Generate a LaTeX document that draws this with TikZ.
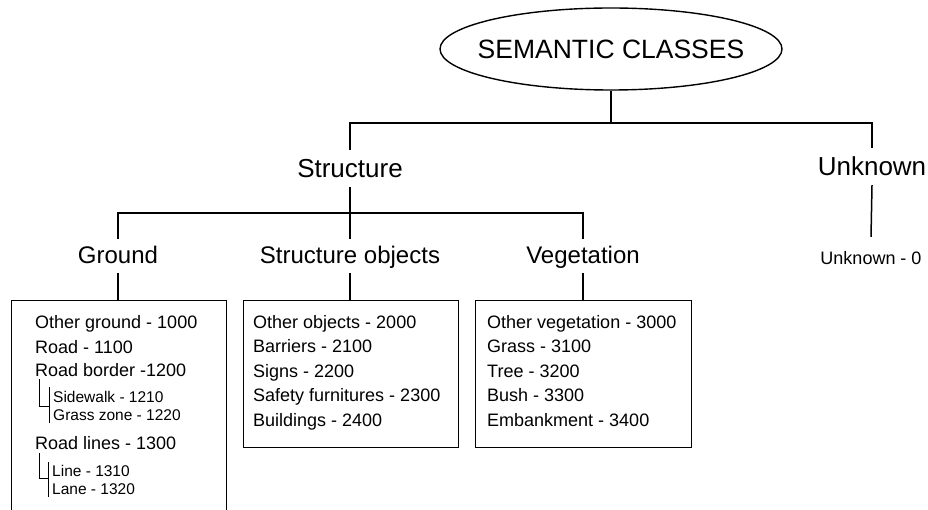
\documentclass[tikz,border=0pt]{standalone}
\usepackage{fontspec}
\setmainfont{Liberation Sans}
\usetikzlibrary{shapes.geometric}

\begin{document}
\begin{tikzpicture}[x=1pt, y=-1pt,
    link/.style={line width=1.5pt},
    classbox/.style={draw, line width=1.1pt, rectangle, anchor=north west, inner sep=0pt},
    head/.style={font=\fontsize{26}{30}\selectfont, inner sep=0pt, text height=28pt, text depth=9pt, anchor=base},
    group/.style={font=\fontsize{24}{28}\selectfont, inner sep=0pt, text height=25pt, text depth=9pt, anchor=base},
    item/.style={font=\fontsize{18}{21}\selectfont, inner sep=0pt, anchor=base west},
    subitem/.style={font=\fontsize{15.5}{18}\selectfont, inner sep=0pt, anchor=base west},
    bracket/.style={line width=0.9pt}]

    % Picture frame (the Ground box runs off the bottom)
    \useasboundingbox (0,0) rectangle (928,510);
    \clip (0,0) rectangle (928,510);

    % Levels of the horizontal bars
    \coordinate (topbar) at (0,123);
    \coordinate (midbar) at (0,213);

    % Root of the tree
    \node[draw, ellipse, line width=1.4pt, inner sep=0pt,
          minimum width=342pt, minimum height=82pt] (root) at (611,49) {};
    \node[font=\fontsize{26.5}{30}\selectfont] (roottext) at (root.center) {SEMANTIC CLASSES};

    % First level
    \node[head] (structure) at (350,178) {Structure};
    \node[head] (unknown)   at (872,176) {Unknown};
    \node[item, anchor=base, text height=28pt] (unknownzero) at (871,265) {Unknown - 0};

    % Second level
    \node[group] (ground)     at (118,264) {Ground};
    \node[group] (structobj)  at (350,264) {Structure objects};
    \node[group] (vegetation) at (583,264) {Vegetation};

    % Boxes holding the class codes
    \node[classbox, minimum width=215pt, minimum height=230pt] (groundbox) at (11,300) {};
    \node[classbox, minimum width=215pt, minimum height=147pt] (objbox)    at (243,300) {};
    \node[classbox, minimum width=216pt, minimum height=147pt] (vegbox)    at (475,300) {};

    % Tree connectors
    \draw[link] (root.south) -- (root.south |- topbar);
    \draw[link] (structure.north) |- (unknown.north |- topbar) -- (unknown.north);
    \draw[link] (unknown.south) -- (unknownzero.north);
    \draw[link] (structure.south) -- (structobj.north);
    \draw[link] (ground.north) |- (vegetation.north |- midbar) -- (vegetation.north);
    \draw[link] (ground.south) -- (ground.south |- groundbox.north);
    \draw[link] (structobj.south) -- (structobj.south |- objbox.north);
    \draw[link] (vegetation.south) -- (vegetation.south |- vegbox.north);

    % Ground classes
    \node[item] (otherground) at (35,328) {Other ground - 1000};
    \node[item] (road)        at (35,353) {Road - 1100};
    \node[item] (border)      at (35,376) {Road border -1200};
    \node[subitem] (sidewalk)  at (53,402) {Sidewalk - 1210};
    \node[subitem] (grasszone) at (53,420) {Grass zone - 1220};
    \node[item] (roadlines)   at (35,449) {Road lines - 1300};
    \node[subitem] (line) at (52,476) {Line - 1310};
    \node[subitem] (lane) at (52,494) {Lane - 1320};

    \draw[bracket] ([shift={(4,3)}]border.base west) |- ([shift={(-4,4)}]sidewalk.base west);
    \draw[bracket] ([shift={(-4,-15)}]sidewalk.base west) -- ([shift={(-4,3)}]grasszone.base west);
    \draw[bracket] ([shift={(4,4)}]roadlines.base west) |- ([shift={(-4,2)}]line.base west);
    \draw[bracket] ([shift={(-4,-14)}]line.base west) -- ([shift={(-4,3)}]lane.base west);

    % Structure object classes
    \foreach \txt [count=\i] in {Other objects - 2000, Barriers - 2100, Signs - 2200,
                                 Safety furnitures - 2300, Buildings - 2400}
        \node[item] (obj\i) at (253,{328+24.5*(\i-1)}) {\txt};

    % Vegetation classes
    \foreach \txt [count=\i] in {Other vegetation - 3000, Grass - 3100, Tree - 3200,
                                 Bush - 3300, Embankment - 3400}
        \node[item] (veg\i) at (487,{328+24.5*(\i-1)}) {\txt};

\end{tikzpicture}
\end{document}
